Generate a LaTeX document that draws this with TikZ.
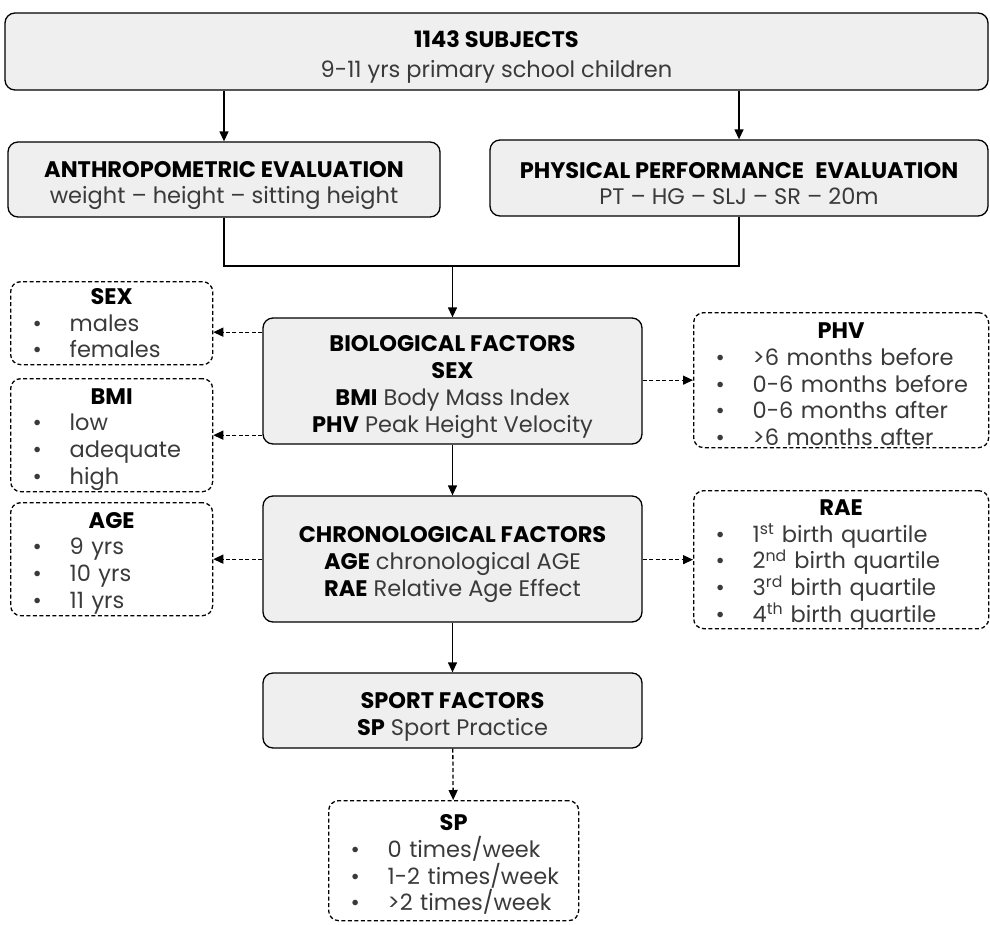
\documentclass[tikz,border=0pt]{standalone}
\usepackage{xcolor}
\usepackage{fontspec}
\setmainfont{Poppins}
\usetikzlibrary{positioning, arrows.meta}

\definecolor{boxgray}{HTML}{EFEFEF}
\definecolor{txtgray}{HTML}{3A3A3A}

% headings and bullet items
\newcommand{\hdr}[1]{\rule{0pt}{28pt}\textbf{\color{black}#1}}
\newcommand{\ttl}[2][24pt]{\rule{0pt}{#1}\makebox[\linewidth][c]{\bfseries\color{black}#2}}
\newcommand{\itm}[1]{\makebox[59pt][l]{\hspace{22pt}\textbullet}#1}

\begin{document}
\begin{tikzpicture}[
    x=1pt, y=-1pt,
    font=\fontsize{22.5}{27}\selectfont\color{txtgray},
    % Define the style for the grey boxes
    factor/.style={
        rectangle,
        draw=black,
        line width=1.3pt,
        fill=boxgray,
        align=center,
        inner sep=0pt,
        rounded corners=10pt
    },
    % Define the style for the dashed lists
    levels/.style={
        rectangle,
        draw=black,
        line width=1.3pt,
        dash pattern=on 4pt off 2.5pt,
        align=left,
        inner sep=0pt,
        rounded corners=10pt,
        anchor=north west,
        font=\fontsize{22.5}{26.7}\selectfont\color{txtgray}
    },
    % Define style for arrows
    arrow/.style={
        -{Triangle[length=10pt,width=9pt]},
        line width=1.3pt
    },
    darrow/.style={
        arrow,
        dash pattern=on 4pt off 2.5pt
    }
]
\useasboundingbox (0,0) rectangle (990,924);

% 1. Subjects
\node (subj) [factor, minimum width=983pt, minimum height=77pt] at (496.5,51.5)
    {\hdr{1143 SUBJECTS} \\[3pt] 9-11 yrs primary school children};

% 2. Evaluations
\node (anthro) [factor, minimum width=432pt, minimum height=75pt] at (224,179.5)
    {\hdr{ANTHROPOMETRIC EVALUATION} \\[-1pt] weight -- height -- sitting height};
\node (phys) [factor, minimum width=498pt, minimum height=76pt] at (739,178)
    {\hdr{PHYSICAL PERFORMANCE\enspace EVALUATION} \\[-1pt] PT -- HG -- SLJ -- SR -- 20m};

% 3. Factors
\node (bio) [factor, minimum width=379pt, minimum height=126pt] at (452.5,381)
    {\hdr{BIOLOGICAL FACTORS} \\ \textbf{\color{black}SEX} \\
     \textbf{\color{black}BMI} Body Mass Index \\ \textbf{\color{black}PHV} Peak Height Velocity};
\node (chrono) [factor, minimum width=379pt, minimum height=126pt] at (452.5,559)
    {\hdr{CHRONOLOGICAL FACTORS} \\ \textbf{\color{black}AGE} chronological AGE \\
     \textbf{\color{black}RAE} Relative Age Effect};
\node (sport) [factor, minimum width=379pt, minimum height=75pt] at (452.5,710.5)
    {\hdr{SPORT FACTORS} \\ \textbf{\color{black}SP} Sport Practice};

% 4. Levels of each factor
\node (sex) [levels, text width=202pt, minimum height=83pt] at (10,281)
    {\ttl[16pt]{SEX} \\ \itm{males} \\ \itm{females}};
\node (bmi) [levels, text width=202pt, minimum height=113pt] at (10,378)
    {\ttl{BMI} \\ \itm{low} \\ \itm{adequate} \\ \itm{high}};
\node (age) [levels, text width=202pt, minimum height=113pt] at (10,502)
    {\ttl{AGE} \\ \itm{9 yrs} \\ \itm{10 yrs} \\ \itm{11 yrs}};
\node (phv) [levels, text width=295pt, minimum height=135pt] at (693,312)
    {\ttl{PHV} \\ \itm{>6 months before} \\ \itm{0-6 months before} \\
     \itm{0-6 months after} \\ \itm{>6 months after}};
\node (rae) [levels, text width=295pt, minimum height=138pt] at (693,490)
    {\ttl{RAE} \\ \itm{1\textsuperscript{st} birth quartile} \\ \itm{2\textsuperscript{nd} birth quartile} \\
     \itm{3\textsuperscript{rd} birth quartile} \\ \itm{4\textsuperscript{th} birth quartile}};
\node (sp) [levels, text width=250pt, minimum height=120pt] at (328,800)
    {\ttl{SP} \\ \itm{0 times/week} \\ \itm{1-2 times/week} \\ \itm{>2 times/week}};

% Draw arrows to show the flow
\coordinate (merge) at (452.5,266);
\coordinate (sexin) at ([yshift=-9pt]sex.east);
\draw [arrow] (subj.south -| anthro.north) -- (anthro.north);
\draw [arrow] (subj.south -| phys.north) -- (phys.north);
\draw [line width=1.3pt] (anthro.south) |- (merge) -| (phys.south);
\draw [arrow] (merge) -- (bio.north);
\draw [arrow] (bio) -- (chrono);
\draw [arrow] (chrono) -- (sport);
\draw [darrow] (sport) -- (sp);

\draw [darrow] (bio.west |- sexin) -- (sexin);
\draw [darrow] (bio.west |- bmi.east) -- (bmi.east);
\draw [darrow] (bio.east |- phv.west) -- (phv.west);
\draw [darrow] (chrono.west |- age.east) -- (age.east);
\draw [darrow] (chrono.east |- rae.west) -- (rae.west);

\end{tikzpicture}
\end{document}
